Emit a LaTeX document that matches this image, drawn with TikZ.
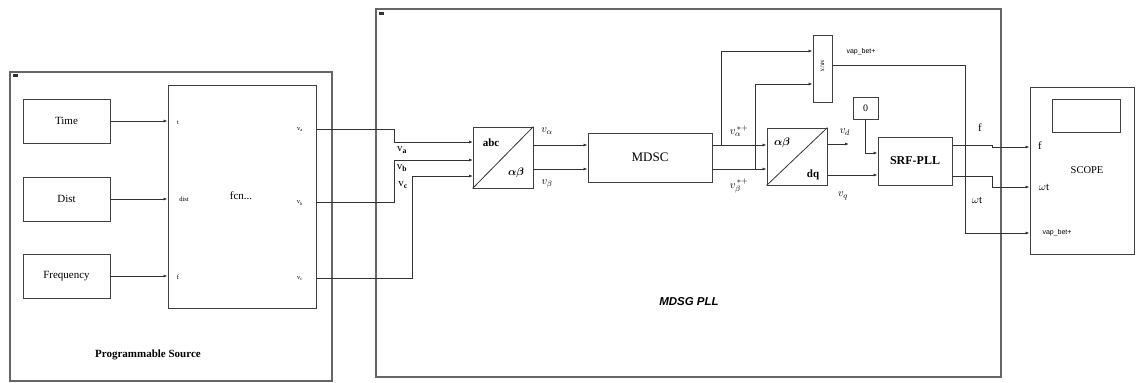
\documentclass[tikz,border=0pt]{standalone}
\usepackage{amsmath}
\usepackage{fontspec}
\setmainfont{Liberation Serif}
\newfontfamily\lsans{Liberation Sans}
\usetikzlibrary{arrows.meta,calc}
\begin{document}
\begin{tikzpicture}[x=1pt,y=-1pt,
  blk/.style={draw=black!75,line width=0.9pt,inner sep=0pt,font=\fontsize{11}{12}\selectfont},
  outer/.style={draw=black!60,line width=1.4pt,inner sep=0pt},
  wire/.style={draw=black!80,line width=0.8pt},
  arr/.style={wire,-{Latex[length=4pt,width=3pt]}},
  lbl/.style={inner sep=0pt,font=\fontsize{11}{12}\selectfont},
  tiny/.style={inner sep=0pt,font=\fontsize{6.5}{7}\selectfont},
  sig/.style={inner sep=0pt,font=\lsans\fontsize{7}{8}\selectfont}]
\useasboundingbox (0,0) rectangle (1136,383);
% outer boxes
\node[outer,minimum width=322pt,minimum height=309pt] (prog) at (171,226.5) {};
\node[outer,minimum width=625pt,minimum height=368pt] (pll) at (688.5,193) {};
\fill[black!80] (13,74) rectangle (18,76.5);
\fill[black!80] (379,12) rectangle (384,14.5);
\node[lbl,font=\fontsize{11}{12}\selectfont\bfseries] (progtxt) at (148,355) {Programmable Source};
\node[lbl,font=\lsans\bfseries\itshape\fontsize{11.5}{12}\selectfont] (plltxt) at (689,302) {MDSG PLL};
% source blocks
\node[blk,minimum width=87pt,minimum height=44pt] (time) at (66.5,121) {Time};
\node[blk,minimum width=87pt,minimum height=44pt] (dist) at (66.5,199) {Dist};
\node[blk,minimum width=87pt,minimum height=44pt] (freq) at (66.5,276) {Frequency};
\node[blk,minimum width=148pt,minimum height=223pt] (fcn) at (242,196.5) {};
\node[lbl] (fcntxt) at (241,196) {fcn...};
\node[tiny] at (178,123) {t};
\node[tiny] at (184,199) {dist};
\node[tiny] at (178,277) {f};
\node[tiny] at (300,130) {v\textsubscript{a}};
\node[tiny] at (300,203) {v\textsubscript{b}};
\node[tiny] at (300,279) {v\textsubscript{c}};
\draw[arr] (time.east) -- (time.east -| fcn.west);
\draw[arr] (dist.east) -- (dist.east -| fcn.west);
\draw[arr] (freq.east) -- (freq.east -| fcn.west);
% PLL blocks
\node[blk,minimum width=60pt,minimum height=61pt] (abc) at (503,157.5) {};
\draw[wire] (abc.south west) -- (abc.north east);
\node[lbl,font=\fontsize{11}{12}\selectfont\bfseries] at (491,143) {abc};
\node[lbl] at (516,173) {$\boldsymbol{\alpha\beta}$};
\node[blk,minimum width=124pt,minimum height=49pt,font=\fontsize{13}{14}\selectfont] (mdsc) at (650,157.5) {MDSC};
\node[blk,minimum width=60pt,minimum height=57pt] (dq) at (797,156.5) {};
\draw[wire] (dq.south west) -- (dq.north east);
\node[lbl] at (782,143) {$\boldsymbol{\alpha\beta}$};
\node[lbl,font=\fontsize{11}{12}\selectfont\bfseries] at (813,175) {dq};
\node[blk,minimum width=19pt,minimum height=67pt] (mux) at (822.5,68.5) {};
\node[inner sep=0pt,font=\fontsize{5}{6}\selectfont,rotate=-90] at (822.5,66) {MUX};
\node[blk,font=\fontsize{10}{11}\selectfont,minimum width=25pt,minimum height=22pt] (zero) at (865.5,108) {0};
\node[blk,minimum width=74pt,minimum height=48pt,font=\fontsize{12}{13}\selectfont\bfseries] (srf) at (915,161) {SRF-PLL};
% scope
\node[blk,minimum width=104pt,minimum height=167pt] (scope) at (1082,170.5) {};
\node[blk,minimum width=68pt,minimum height=33pt] (scr) at (1086,115.5) {};
\node[lbl,font=\fontsize{10.5}{12}\selectfont] (scopetxt) at (1087,170) {SCOPE};
\node[lbl] at (1040,146) {f};
\node[lbl] at (1044,187) {$\omega$t};
\node[sig] at (1057,233) {vap\_bet+};
% port coordinates
\coordinate (oa) at (316,129);
\coordinate (ob) at (316,202);
\coordinate (oc) at (316,278);
\coordinate (ia) at (473,142);
\coordinate (ib) at (473,160);
\coordinate (ic) at (473,176);
% source -> abc
\draw[arr] (oa) -- (394,129) -- (394,142) -- (ia);
\draw[arr] (ob) -- (394,202) -- (394,160) -- (ib);
\draw[arr] (oc) -- (412,278) -- (412,176) -- (ic);
\node[lbl] at (402,150) {v\textsubscript{\bfseries a}};
\node[lbl] at (402,168) {v\textsubscript{\bfseries b}};
\node[lbl] at (403,185) {v\textsubscript{\bfseries c}};
% abc -> mdsc
\draw[arr] (abc.east |- 0,145) -- (mdsc.west |- 0,145);
\draw[arr] (abc.east |- 0,169) -- (mdsc.west |- 0,169);
\node[lbl] at (547,131) {$v_\alpha$};
\node[lbl] at (547,184) {$v_\beta$};
% mdsc -> dq
\draw[arr] (mdsc.east |- 0,145) -- (dq.west |- 0,145);
\draw[arr] (mdsc.east |- 0,169) -- (dq.west |- 0,169);
\draw[arr] (721,145) -- (721,51) -- (mux.west |- 0,51);
\draw[arr] (755,169) -- (755,84) -- (mux.west |- 0,84);
\node[lbl] at (739,131) {$v_\alpha^{\,*+}$};
\node[lbl] at (739,186) {$v_\beta^{\,*+}$};
% dq -> srf
\coordinate (vdend) at (849,144);
\draw[arr] (dq.east |- vdend) -- (vdend);
\node[lbl] at (845,132) {$v_d$};
\draw[arr] (dq.east |- 0,175) -- (srf.west |- 0,175);
\node[lbl] at (843,196) {$v_q$};
\draw[arr] (zero.south) -- (zero.south |- 0,153) -- (srf.west |- 0,153);
% outputs
\node[sig] at (861,52) {vap\_bet+};
\draw[arr] (mux.east |- 0,65) -- (965,65) -- (965,233) -- (scope.west |- 0,233);
\draw[arr] (srf.east |- 0,145) -- (992,145) -- (992,147) -- (scope.west |- 0,147);
\draw[arr] (srf.east |- 0,176) -- (992,176) -- (992,187) -- (scope.west |- 0,187);
\node[lbl] at (980,128) {f};
\node[lbl] at (977,200) {$\omega$t};
\end{tikzpicture}
\end{document}
